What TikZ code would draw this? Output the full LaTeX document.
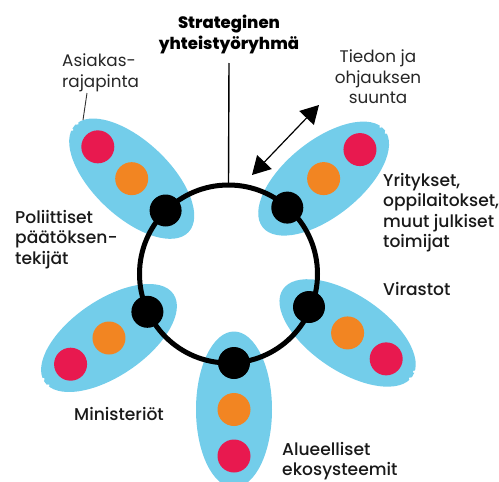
\documentclass[tikz,border=0pt]{standalone}
\usepackage{fontspec}
\setmainfont{Poppins}[UprightFont=* Medium, BoldFont=* ExtraBold]
\newfontfamily\lightfont{Poppins}
\usetikzlibrary{arrows.meta,calc}
\definecolor{petalblue}{HTML}{73CDEA}
\definecolor{dotred}{HTML}{E8194F}
\definecolor{dotorange}{HTML}{F28522}
\tikzset{bigtip/.tip={Triangle[length=18pt,width=20pt]}}
\begin{document}
\begin{tikzpicture}[x=1pt,y=-1pt,
  petal/.style={fill=petalblue},
  reddot/.style={circle,fill=dotred,minimum size=33pt,inner sep=0pt},
  orangedot/.style={circle,fill=dotorange,minimum size=33pt,inner sep=0pt},
  hub/.style={circle,fill=black,minimum size=32pt,inner sep=0pt},
  lbl/.style={font=\fontsize{17.1}{20.5}\selectfont,align=left,inner sep=0pt,text=black!90},
  lightlbl/.style={font=\lightfont\fontsize{16.8}{20.5}\selectfont,inner sep=0pt,text=black!85},
  titlelbl/.style={font=\bfseries\fontsize{16.5}{20.5}\selectfont,align=center,inner sep=0pt}]
\useasboundingbox (0,0) rectangle (499,482);
% petals
\foreach \bx/\by/\ang/\nm in {165.6/210.5/136.8/a, 287.3/207.6/38.6/b, 147.4/311.8/214.3/c, 309/307/-33.9/d, 234/363/-90/e}{
  \begin{scope}[shift={(\bx,\by)}, rotate=\ang]
    \fill[petal] (46.5,0) ellipse [x radius=78pt, y radius=38pt];
    \fill[white] (124.3,3) circle [radius=1.8pt];
    \fill[white] (123.5,-5) circle [radius=1.4pt];
    \node[orangedot] (o\nm) at (46.5,0) {};
    \node[reddot] (r\nm) at (93,0) {};
  \end{scope}
}
% ring
\node[draw, line width=5pt, circle, minimum size=178pt, inner sep=0pt, outer sep=0pt] (ring) at (228.5,274) {};
\node[hub] (ha) at (165.6,210.5) {};
\node[hub] (hb) at (287.3,207.6) {};
\node[hub] (hc) at (147.4,311.8) {};
\node[hub] (hd) at (309,307) {};
\node[hub] (he) at (234,363) {};
% title and line
\node[titlelbl, anchor=north] (title) at (229,15) {Strateginen\\yhteistyöryhmä};
\coordinate (tline) at (229,63);
\draw[line width=1.4pt] (tline) -- (ring.north);
% arrow
\coordinate (arrA) at (252,175);
\coordinate (arrB) at (319,105);
\draw[line width=1.2pt, bigtip-bigtip] (arrA) -- (arrB);
\node[lightlbl, align=center, anchor=north] (tiedon) at (378,50) {Tiedon ja\\ohjauksen\\suunta};
% labels
\node[lightlbl, align=left, anchor=north west] (asiakas) at (62,54) {Asiakas-\\rajapinta};
\coordinate (lead1) at (87,93);
\coordinate (lead2) at (83,120);
\draw[line width=0.9pt, black!80] (lead1) -- (lead2);
\node[lbl, anchor=north west] (poli) at (15,210) {Poliittiset\\päätöksen-\\tekijät};
\node[lbl, anchor=north west] (yrit) at (383,173) {Yritykset,\\oppilaitokset,\\muut julkiset\\toimijat};
\node[lbl, anchor=north west] (vira) at (383,282) {Virastot};
\node[lbl, anchor=north west] (mini) at (74,407) {Ministeriöt};
\node[lbl, anchor=north west] (alue) at (282,442) {Alueelliset\\ekosysteemit};
\end{tikzpicture}
\end{document}
